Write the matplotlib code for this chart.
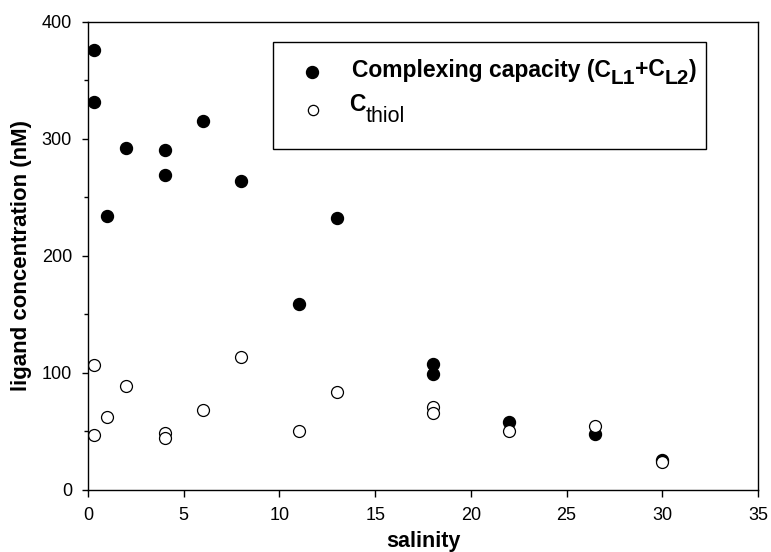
import matplotlib
matplotlib.use("Agg")
import matplotlib.pyplot as plt
from matplotlib.ticker import MultipleLocator
from matplotlib.patches import Rectangle
from matplotlib.lines import Line2D

plt.rcParams['font.family'] = ['Liberation Sans', 'DejaVu Sans']

# Complexing capacity (C_L1 + C_L2)
sal_cap = [0.3, 0.3, 1, 2, 4, 4, 6, 8, 11, 13, 18, 18, 22, 26.5, 30]
cap = [376, 331, 234, 292, 290, 269, 315, 264, 159, 232, 108, 99, 58, 48, 25.5]

# C_thiol
sal_thiol = [0.3, 0.3, 1, 2, 4, 4, 6, 8, 11, 13, 18, 18, 22, 26.5, 30]
thiol = [107, 47, 62, 89, 49, 44, 68, 114, 50, 84, 71, 65.5, 50, 54.5, 24]

W, H = 771, 552
fig = plt.figure(figsize=(W / 100, H / 100), dpi=100)
ax = fig.add_axes([88 / W, 1 - 490 / H, (758 - 88) / W, (490 - 21.7) / H])

ax.plot(sal_cap, cap, 'o', color='black', markersize=8.6, linestyle='none')
ax.plot(sal_thiol, thiol, 'o', markerfacecolor='white', markeredgecolor='black',
        markeredgewidth=0.9, markersize=8.6, linestyle='none')

ax.set_xlim(0, 35)
ax.set_ylim(0, 400)
ax.xaxis.set_major_locator(MultipleLocator(5))
ax.yaxis.set_major_locator(MultipleLocator(100))
ax.yaxis.set_minor_locator(MultipleLocator(50))
ax.tick_params(axis='x', which='major', labelsize=13, direction='out', length=5, width=1, pad=7.5)
ax.tick_params(axis='y', which='major', labelsize=13, direction='out', length=4.5, width=1, pad=7)
ax.tick_params(axis='y', which='minor', direction='out', length=3.2, width=1)
for s in ax.spines.values():
    s.set_linewidth(1)

ax.set_xlabel('salinity', fontsize=15.5, fontweight='bold')
ax.set_ylabel('ligand concentration (nM)', fontsize=16, fontweight='bold')
ax.xaxis.set_label_coords(0.5, (490 - 530.5) / 468.3)
ax.yaxis.set_label_coords((32 - 88) / 670, 0.5)

# ---- legend (drawn manually to reproduce the large, lowered subscripts) ----
def fx(px):
    return px / W

def fy(py):
    return 1 - py / H

fig.add_artist(Rectangle((fx(272.7), fy(149.3)), fx(705.7) - fx(272.7), fy(41.7) - fy(149.3),
                         transform=fig.transFigure, facecolor='white', edgecolor='black',
                         linewidth=1, zorder=5))
fig.add_artist(Line2D([fx(312)], [fy(71.7)], transform=fig.transFigure, marker='o',
                      color='black', markersize=8.6, linestyle='none', zorder=6))
fig.add_artist(Line2D([fx(312.7)], [fy(110)], transform=fig.transFigure, marker='o',
                      markerfacecolor='white', markeredgecolor='black', markeredgewidth=0.9,
                      markersize=7.4, linestyle='none', zorder=6))

fig.canvas.draw()
renderer = fig.canvas.get_renderer()

def chain(x0, base, pieces):
    x = x0
    for txt, size, weight, dy in pieces:
        t = fig.text(fx(x), fy(base + dy), txt, fontsize=size, fontweight=weight,
                     ha='left', va='baseline', zorder=7)
        bb = t.get_window_extent(renderer)
        x += bb.width

chain(351.5, 76.5, [('Complexing capacity (C', 16.5, 'bold', 0),
                    ('L1', 15, 'bold', 7.5),
                    ('+C', 16.5, 'bold', 0),
                    ('L2', 15, 'bold', 7.5),
                    (')', 16.5, 'bold', 0)])
chain(349.5, 111, [('C', 16.5, 'bold', 0),
                   ('thiol', 15.5, 'normal', 11)])

fig.savefig('out.png', dpi=100)
